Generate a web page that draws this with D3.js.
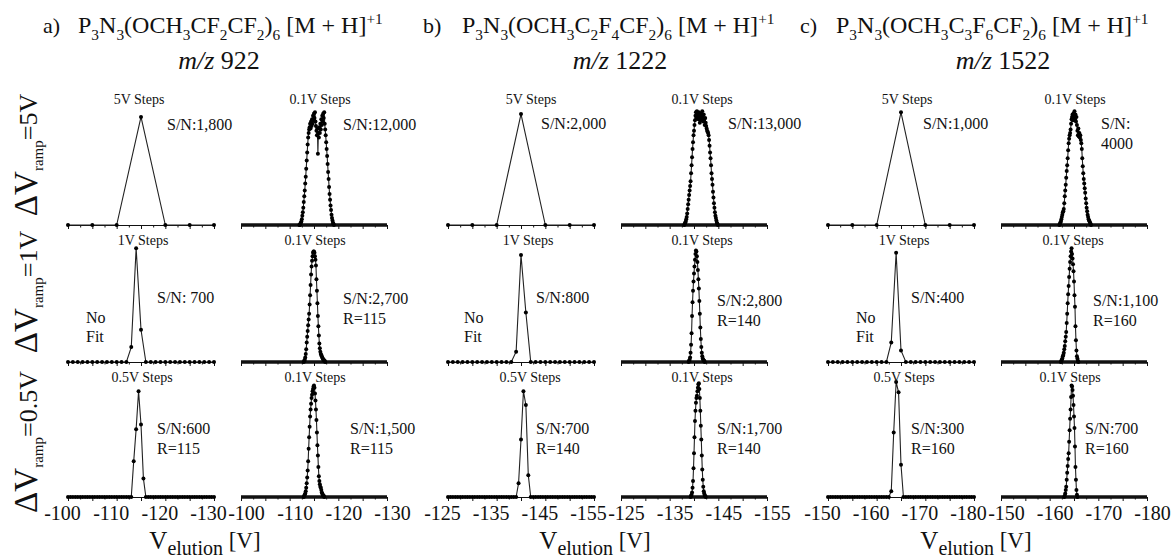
<!DOCTYPE html>
<html>
<head>
<meta charset="utf-8">
<script src="https://cdn.jsdelivr.net/npm/d3@7"></script>
<style>
  body { margin: 0; background: #fff; }
  svg text { font-family: "Liberation Serif", "DejaVu Serif", serif; fill: #111; white-space: pre; }
</style>
</head>
<body>
<svg id="chart"></svg>
<script>
const width = 1173;
const height = 558;

// x ranges and tick labels of the three compounds
const domainA = [-100, -130];
const domainB = [-125, -155];
const domainC = [-150, -180];
const tickLabelsA = [-100, -110, -120, -130];
const tickLabelsB = [-125, -135, -145, -155];
const tickLabelsC = [-150, -160, -170, -180];

const groupLetters = ['a)', 'b)', 'c)'];
const formulas = [
  'P_3N_3(OCH_3CF_2CF_2)_6 [M + H]^+1',
  'P_3N_3(OCH_3C_2F_4CF_2)_6 [M + H]^+1',
  'P_3N_3(OCH_3C_3F_6CF_2)_6 [M + H]^+1'
];
const masses = ['922', '1222', '1522'];
const rampLabels = ['5V', '1V', '0.5V'];

// panel order: top-left, top-right, middle-left, middle-right, bottom-left, bottom-right
const stepLabels = ['5V Steps', '0.1V Steps', '1V Steps', '0.1V Steps', '0.5V Steps', '0.1V Steps'];
const snA = ['S/N:1,800', 'S/N:12,000', 'S/N: 700', 'S/N:2,700', 'S/N:600', 'S/N:1,500'];
const snB = ['S/N:2,000', 'S/N:13,000', 'S/N:800', 'S/N:2,800', 'S/N:700', 'S/N:1,700'];
const snC = ['S/N:1,000', 'S/N:\n4000', 'S/N:400', 'S/N:1,100', 'S/N:300', 'S/N:700'];
const resA = ['', '', '', 'R=115', 'R=115', 'R=115'];
const resB = ['', '', '', 'R=140', 'R=140', 'R=140'];
const resC = ['', '', '', 'R=160', 'R=160', 'R=160'];
const noFitLabel = ['No', 'Fit'];

// normalised intensities
const a5V = [0, 0, 0, 0.94, 0, 0, 0];
const b5V = [0, 0, 0, 0.965, 0, 0, 0];
const c5V = [0, 0, 0, 0.98, 0, 0, 0];

const a1V = [0,0,0,0,0,0,0,0,0,0, 0,0,0,0.13,0.99,0.28,0,0,0,0, 0,0,0,0,0,0,0,0,0,0, 0];
const b1V = [0,0,0,0,0,0,0,0,0,0, 0,0,0,0,0.09,0.93,0.43,0,0,0, 0,0,0,0,0,0,0,0,0,0, 0];
const c1V = [0,0,0,0,0,0,0,0,0,0, 0,0,0,0.17,0.95,0.10,0,0,0,0, 0,0,0,0,0,0,0,0,0,0, 0];

const a05V = [0,0,0,0,0,0,0,0,0,0, 0,0,0,0,0,0,0,0,0,0,
  0,0,0,0,0,0,0,0.31,0.59,0.92, 0.63,0.16,0,0,0,0,0,0,0,0,
  0,0,0,0,0,0,0,0,0,0, 0,0,0,0,0,0,0,0,0,0, 0];
const b05V = [0,0,0,0,0,0,0,0,0,0, 0,0,0,0,0,0,0,0,0,0,
  0,0,0,0,0,0,0,0,0,0.12, 0.50,0.92,0.80,0.19,0,0,0,0,0,0,
  0,0,0,0,0,0,0,0,0,0, 0,0,0,0,0,0,0,0,0,0, 0];
const c05V = [0,0,0,0,0,0,0,0,0,0, 0,0,0,0,0,0,0,0,0,0,
  0,0,0,0,0,0,0.05,0.56,1.0,0.91, 0.28,0,0,0,0,0,0,0,0,0,
  0,0,0,0,0,0,0,0,0,0, 0,0,0,0,0,0,0,0,0,0, 0];

// 0.1V scans: only the region around the peak, zero elsewhere
const a01TopStart = -112.0;
const a01Top = [0,0,0.01,0.02,0.03,0.05,0.08,0.11,0.15,0.20,
  0.25,0.30,0.36,0.42,0.49,0.56,0.63,0.70,0.76,0.80,
  0.83,0.85,0.88,0.84,0.90,0.86,0.92,0.88,0.95,0.91,
  0.97,0.93,0.98,0.90,0.86,0.82,0.78,0.84,0.62,0.80,
  0.76,0.85,0.80,0.88,0.83,0.92,0.87,0.95,0.90,0.97,
  0.93,0.98,0.88,0.83,0.78,0.72,0.66,0.60,0.53,0.46,
  0.40,0.33,0.27,0.22,0.17,0.13,0.09,0.06,0.04,0.02, 0.01,0];
const a01MidStart = -112.9;
const a01Mid = [0,0.01,0.02,0.04,0.07,0.11,0.17,0.22,0.27,0.32,
  0.37,0.42,0.50,0.58,0.67,0.76,0.83,0.88,0.92,0.95,
  0.96,0.96,0.95,0.92,0.89,0.84,0.72,0.62,0.51,0.40,
  0.31,0.23,0.16,0.12,0.09,0.07,0.06,0.05,0.04,0.03,
  0.02,0.02,0.01,0.01,0];
const a01BotStart = -112.9;
const a01Bot = [0,0.01,0.02,0.03,0.05,0.08,0.12,0.17,0.23,0.31,
  0.42,0.52,0.61,0.70,0.76,0.81,0.86,0.89,0.92,0.94,
  0.96,0.97,0.95,0.90,0.84,0.76,0.67,0.56,0.45,0.36,
  0.26,0.18,0.14,0.11,0.09,0.08,0.06,0.04,0.03,0.02,
  0.01,0.01,0];

const b01TopStart = -138.0;
const b01Top = [0,0.01,0.02,0.03,0.05,0.07,0.10,0.14,0.18,0.22,
  0.26,0.30,0.34,0.38,0.45,0.52,0.59,0.66,0.72,0.78,
  0.82,0.87,0.91,0.95,0.98,0.93,0.99,0.95,0.97,0.92,
  0.98,0.94,0.89,0.96,0.91,0.97,0.93,0.99,0.95,0.90,
  0.96,0.92,0.87,0.93,0.89,0.86,0.84,0.82,0.81,0.80,
  0.78,0.74,0.69,0.63,0.58,0.52,0.45,0.40,0.35,0.29,
  0.24,0.19,0.15,0.11,0.08,0.06,0.04,0.02,0.01,0];
const b01MidStart = -138.9;
const b01Mid = [0,0.01,0.02,0.04,0.08,0.15,0.25,0.40,0.52,0.62,
  0.70,0.77,0.83,0.89,0.94,0.97,0.96,0.92,0.87,0.80,
  0.72,0.64,0.53,0.42,0.30,0.20,0.13,0.08,0.05,0.03,
  0.02,0.01,0.01,0];
const b01BotStart = -139.3;
const b01Bot = [0,0.01,0.02,0.04,0.08,0.14,0.25,0.38,0.52,0.66,
  0.75,0.82,0.86,0.88,0.92,0.95,0.98,0.99,0.94,0.86,
  0.75,0.62,0.50,0.36,0.24,0.15,0.09,0.05,0.03,0.01,
  0.01,0];

const c01TopStart = -162.0;
const c01Top = [0,0.01,0.02,0.03,0.05,0.07,0.09,0.11,0.12,0.14,
  0.19,0.25,0.30,0.35,0.41,0.47,0.52,0.58,0.65,0.71,
  0.75,0.78,0.80,0.83,0.88,0.92,0.94,0.96,0.91,0.97,
  0.93,0.99,0.92,0.96,0.90,0.94,0.87,0.82,0.78,0.84,
  0.77,0.80,0.76,0.78,0.74,0.71,0.66,0.58,0.51,0.45,
  0.40,0.36,0.32,0.28,0.23,0.19,0.15,0.12,0.09,0.07,
  0.05,0.04,0.03,0.02,0.01,0];
const c01MidStart = -162.3;
const c01Mid = [0,0.01,0.02,0.03,0.05,0.06,0.08,0.11,0.14,0.18,
  0.22,0.26,0.34,0.42,0.51,0.59,0.66,0.74,0.81,0.87,
  0.92,0.96,0.99,0.94,0.90,0.85,0.79,0.70,0.58,0.48,
  0.31,0.19,0.10,0.05,0.03,0.01,0];
const c01BotStart = -163.0;
const c01Bot = [0,0.01,0.03,0.06,0.09,0.15,0.21,0.27,0.33,0.38,
  0.48,0.58,0.68,0.76,0.87,0.97,0.96,0.93,0.88,0.80,
  0.70,0.60,0.44,0.26,0.15,0.06,0.02,0];

const groups = [
  { domain: domainA, ticks: tickLabelsA, sn: snA, res: resA, panels: [
    { start: -100, step: 5, values: a5V },
    { start: a01TopStart, step: 0.1, values: a01Top },
    { start: -100, step: 1, values: a1V },
    { start: a01MidStart, step: 0.1, values: a01Mid },
    { start: -100, step: 0.5, values: a05V },
    { start: a01BotStart, step: 0.1, values: a01Bot }
  ]},
  { domain: domainB, ticks: tickLabelsB, sn: snB, res: resB, panels: [
    { start: -125, step: 5, values: b5V },
    { start: b01TopStart, step: 0.1, values: b01Top },
    { start: -125, step: 1, values: b1V },
    { start: b01MidStart, step: 0.1, values: b01Mid },
    { start: -125, step: 0.5, values: b05V },
    { start: b01BotStart, step: 0.1, values: b01Bot }
  ]},
  { domain: domainC, ticks: tickLabelsC, sn: snC, res: resC, panels: [
    { start: -150, step: 5, values: c5V },
    { start: c01TopStart, step: 0.1, values: c01Top },
    { start: -150, step: 1, values: c1V },
    { start: c01MidStart, step: 0.1, values: c01Mid },
    { start: -150, step: 0.5, values: c05V },
    { start: c01BotStart, step: 0.1, values: c01Bot }
  ]}
];

// layout
const groupX = [68, 448, 828];
const colOffset = 173;
const panelW = 146;
const panelH = 115;
const rowBase = [225, 362, 497];
const stepY = [99, 240, 377];
const stepDx = [[-2, 6, 2, 1, 1, 1], [10, 8, 7, 8, 9, 8], [6, 1, 3, -1, 3, -4]];
const snPos = [
  [[99, 124], [102, 124], [89, 297], [102, 298], [89, 428], [109, 428]],
  [[93, 123], [107, 123], [88, 297], [96, 300], [88, 428], [96, 428]],
  [[95, 123], [100, 123], [83, 297], [92, 300], [83, 428], [84, 428]]
];
const noFitDx = [18, 16, 28];
const tickLabelDx = [-6, 5];
const letterX = [43, 423, 800];
const formulaX = [78, 462, 836];
const massX = [219, 620, 1003];
const xTitleX = [205, 595, 976];
const rampY = [155, 292, 442];

const svg = d3.select('#chart')
  .attr('width', width)
  .attr('height', height);

// text with _sub and ^sup pieces
function richText(sel, str, size) {
  const parts = str.split(/(_[0-9]+|\^[+\-]?[0-9]+)/).filter(s => s.length);
  let shift = 0;
  parts.forEach(s => {
    let target = 0, fs = size, t = s;
    if (s[0] === '_') { target = 0.28 * size; fs = 0.64 * size; t = s.slice(1); }
    else if (s[0] === '^') { target = -0.36 * size; fs = 0.64 * size; t = s.slice(1); }
    sel.append('tspan').attr('font-size', fs).attr('dy', target - shift).text(t);
    shift = target;
  });
}

// titles
groups.forEach((g, gi) => {
  svg.append('text').attr('x', letterX[gi]).attr('y', 33)
    .attr('font-size', 22).text(groupLetters[gi]);
  richText(svg.append('text').attr('x', formulaX[gi]).attr('y', 33), formulas[gi], 24);
  const mz = svg.append('text').attr('x', massX[gi]).attr('y', 69)
    .attr('text-anchor', 'middle').attr('font-size', 26);
  mz.append('tspan').attr('font-style', 'italic').text('m/z');
  mz.append('tspan').text(' ' + masses[gi]);

  const xt = svg.append('text').attr('x', xTitleX[gi]).attr('y', 549)
    .attr('text-anchor', 'middle');
  xt.append('tspan').attr('font-size', 25).text('V');
  xt.append('tspan').attr('font-size', 20).attr('dy', 6).text('elution');
  xt.append('tspan').attr('font-size', 23).attr('dy', -7).text(' [V]');
});

// row labels
rampLabels.forEach((r, ri) => {
  const t = svg.append('text')
    .attr('transform', `translate(37,${rampY[ri]}) rotate(-90)`)
    .attr('text-anchor', 'middle');
  t.append('tspan').attr('font-size', 33).text('\u0394V');
  t.append('tspan').attr('font-size', 15).attr('dy', 6).text('ramp');
  t.append('tspan').attr('font-size', 26).attr('dy', -6).text('=' + r);
});

const line = d3.line();

groups.forEach((g, gi) => {
  g.panels.forEach((p, pi) => {
    const row = Math.floor(pi / 2);
    const col = pi % 2;
    const x0 = groupX[gi] + col * colOffset;
    const base = rowBase[row];

    const x = d3.scaleLinear().domain(g.domain).range([x0, x0 + panelW]);
    const y = d3.scaleLinear().domain([0, 1]).range([base, base - panelH]);

    const pts = p.values.map((v, i) => ({ volt: p.start - i * p.step, val: v }));

    // axis, ticks every 2.5 V
    const tickVals = d3.range(0, 13).map(i => g.domain[0] - i * 2.5);
    const axis = d3.axisBottom(x)
      .tickValues(tickVals)
      .tickSize(4)
      .tickSizeOuter(0)
      .tickPadding(5)
      .tickFormat(v => (row === 2 && g.ticks.includes(v)) ? String(v) : '');
    const ax = svg.append('g')
      .attr('transform', `translate(0,${base})`)
      .call(axis)
      .attr('font-size', 20);
    ax.select('.domain').attr('stroke', '#111');
    ax.selectAll('.tick line')
      .attr('stroke', '#111')
      .attr('y2', v => (v % 5 === 0) ? 4 : 2.5);
    ax.selectAll('.tick text').attr('fill', '#111').attr('dx', tickLabelDx[col]);

    // zero floor of the dense scans
    if (p.step <= 0.1) {
      svg.append('line')
        .attr('x1', x0).attr('x2', x0 + panelW)
        .attr('y1', base).attr('y2', base)
        .attr('stroke', '#111').attr('stroke-width', 3.6);
    }

    line.x(d => x(d.volt)).y(d => y(d.val));
    svg.append('path')
      .datum(pts)
      .attr('d', line)
      .attr('fill', 'none')
      .attr('stroke', '#222')
      .attr('stroke-width', 1.1);

    svg.append('g').selectAll('circle')
      .data(pts)
      .join('circle')
      .attr('cx', d => x(d.volt))
      .attr('cy', d => y(d.val))
      .attr('r', 2)
      .attr('fill', '#000');

    // annotations
    svg.append('text')
      .attr('x', x0 + panelW / 2 + stepDx[gi][pi])
      .attr('y', stepY[row])
      .attr('dy', '0.35em')
      .attr('text-anchor', 'middle')
      .attr('font-size', 14)
      .text(stepLabels[pi]);

    const lines = g.sn[pi].split('\n');
    if (g.res[pi]) lines.push(g.res[pi]);
    const [sdx, sy] = snPos[gi][pi];
    lines.forEach((s, li) => {
      svg.append('text')
        .attr('x', x0 + sdx)
        .attr('y', sy + li * 20)
        .attr('dy', '0.35em')
        .attr('font-size', 16)
        .text(s);
    });

    if (pi === 2) {
      noFitLabel.forEach((s, li) => {
        svg.append('text')
          .attr('x', x0 + noFitDx[gi])
          .attr('y', 317 + li * 19)
          .attr('dy', '0.35em')
          .attr('font-size', 16)
          .text(s);
      });
    }
  });
});
</script>
</body>
</html>
